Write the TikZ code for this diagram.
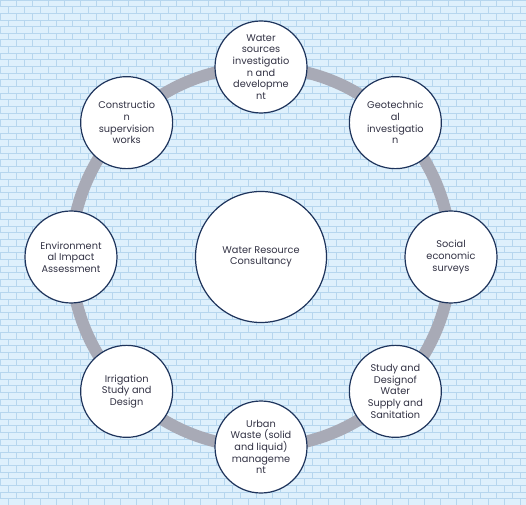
\documentclass[tikz,border=0pt]{standalone}
\usepackage{fontspec}
\setmainfont{Poppins}
\definecolor{brickbase}{RGB}{222,240,252}
\definecolor{brickline}{RGB}{182,214,238}
\definecolor{ringgray}{RGB}{168,170,182}
\definecolor{rimblue}{RGB}{30,52,92}
\definecolor{textgray}{RGB}{50,50,68}
\tikzset{
  topic/.style={circle,draw=rimblue,line width=1.2bp,fill=white,minimum size=92bp,
    inner sep=0pt,align=center,text=textgray,font=\fontsize{9.8}{11.7}\selectfont},
  hub/.style={topic,minimum size=131bp},
  ring/.style={draw=ringgray,line width=12bp}
}
\begin{document}
\begin{tikzpicture}[x=1bp,y=1bp]
  % brick wall background
  \useasboundingbox (-261,-248) rectangle (265,257);
  \clip (-261,-248) rectangle (265,257);
  \fill[brickbase] (-261,-248) rectangle (265,257);
  \draw[brickline,line width=0.8bp] \foreach \r in {0,...,76} {(-261,257-\r*6.65) -- (265,257-\r*6.65)};
  \draw[brickline,line width=0.8bp] \foreach \r in {0,2,...,76} {\foreach \c in {0,...,33} {(-261+\c*16,257-\r*6.65) -- ++(0,-6.65)}};
  \draw[brickline,line width=0.8bp] \foreach \r in {1,3,...,75} {\foreach \c in {0,...,33} {(-253+\c*16,257-\r*6.65) -- ++(0,-6.65)}};
  % ring and circles
  \coordinate (centre) at (0,0);
  \draw[ring] (centre) circle (190);
  \node[hub] (consult) at (centre) {Water Resource\\Consultancy};
  \node[topic] (sources) at (90:190) {Water\\sources\\investigatio\\n and\\developme\\nt};
  \node[topic] (geotech) at (45:190) {Geotechnic\\al\\investigatio\\n};
  \node[topic] (social) at (0:190) {Social\\economic\\surveys};
  \node[topic] (supply) at (-45:190) {Study and\\Designof\\Water\\Supply and\\Sanitation};
  \node[topic] (waste) at (-90:190) {Urban\\Waste (solid\\and liquid)\\manageme\\nt};
  \node[topic] (irrigation) at (-135:190) {Irrigation\\Study and\\Design};
  \node[topic] (impact) at (180:190) {Environment\\al Impact\\Assessment};
  \node[topic] (works) at (135:190) {Constructio\\n\\supervision\\works};
\end{tikzpicture}
\end{document}
